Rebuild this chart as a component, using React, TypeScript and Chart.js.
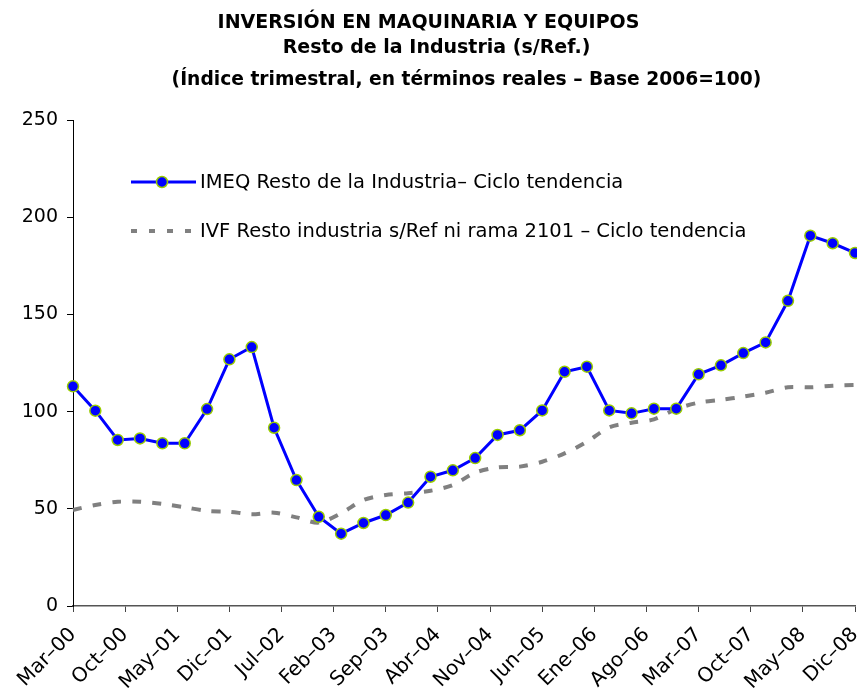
import React, { useEffect, useRef } from "react";
import { Chart, registerables } from "chart.js";

Chart.register(...registerables);

const TITLE_LINE_1 = "INVERSIÓN EN MAQUINARIA Y EQUIPOS";
const TITLE_LINE_2 = "Resto de la Industria (s/Ref.)";
const SUBTITLE = "(Índice trimestral, en términos reales – Base 2006=100)";

const MONTHS = ["Ene", "Feb", "Mar", "Abr", "May", "Jun", "Jul", "Ago", "Sep", "Oct", "Nov", "Dic"];

// Quarterly categories Mar-00 .. Dic-08
const quarters = [
  "Mar–00", "Jun–00", "Sep–00", "Dic–00",
  "Mar–01", "Jun–01", "Sep–01", "Dic–01",
  "Mar–02", "Jun–02", "Sep–02", "Dic–02",
  "Mar–03", "Jun–03", "Sep–03", "Dic–03",
  "Mar–04", "Jun–04", "Sep–04", "Dic–04",
  "Mar–05", "Jun–05", "Sep–05", "Dic–05",
  "Mar–06", "Jun–06", "Sep–06", "Dic–06",
  "Mar–07", "Jun–07", "Sep–07", "Dic–07",
  "Mar–08", "Jun–08", "Sep–08", "Dic–08",
];

const imeqValues = [
  113, 100.5, 85.4, 86.2, 83.7, 83.7, 101.3, 126.9, 133.2, 91.7, 64.8, 45.9,
  37.2, 42.7, 46.8, 53.2, 66.5, 69.8, 76.1, 88, 90.4, 100.6, 120.5, 123.1,
  100.6, 99.1, 101.5, 101.5, 119.2, 123.8, 130.1, 135.6, 157, 190.5, 186.6, 181.6,
];

const ivfValues = [
  49.4, 52, 53.6, 53.6, 52.5, 50.8, 48.9, 48.5, 47.2, 48, 45.6, 42.9,
  47.7, 54.5, 57.1, 58, 59.3, 62.2, 68.6, 71.3, 71.7, 74.2, 78.5, 84.5,
  91.9, 94.3, 96, 101.3, 104.6, 106, 107.7, 109.7, 112.5, 112.5, 113.3, 113.7,
];

// x-axis tick labels every 7 months, starting Mar-00
const tickLabels = [
  "Mar–00", "Oct–00", "May–01", "Dic–01", "Jul–02", "Feb–03", "Sep–03", "Abr–04",
  "Nov–04", "Jun–05", "Ene–06", "Ago–06", "Mar–07", "Oct–07", "May–08", "Dic–08",
];

const LEGEND_IMEQ = "IMEQ Resto de la Industria– Ciclo tendencia";
const LEGEND_IVF = "IVF Resto industria s/Ref ni rama 2101 – Ciclo tendencia";

const FONT = "'DejaVu Sans', sans-serif";

// month index of a "Mmm–yy" label relative to Mar-00
function monthIndex(label: string): number {
  const [m, y] = label.split("–");
  const mi = MONTHS.indexOf(m);
  const yi = 2000 + parseInt(y, 10);
  return (yi - 2000) * 12 + mi - 2;
}

const titlePlugin = {
  id: "multiTitle",
  afterDraw(chart: any) {
    const ctx = chart.ctx;
    const cx = chart.width / 2;
    ctx.save();
    ctx.fillStyle = "#000";
    ctx.textAlign = "center";
    ctx.textBaseline = "middle";
    ctx.font = `bold 19px ${FONT}`;
    ctx.fillText(TITLE_LINE_1, cx, 23);
    ctx.fillText(TITLE_LINE_2, cx + 8, 48);
    ctx.font = `bold 18.7px ${FONT}`;
    ctx.fillText(SUBTITLE, cx + 38, 80);
    ctx.restore();
  },
};

const legendPlugin = {
  id: "insideLegend",
  afterDraw(chart: any) {
    const ctx = chart.ctx;
    const ds0 = chart.data.datasets[0];
    const ds1 = chart.data.datasets[1];
    ctx.save();
    ctx.font = `19.5px ${FONT}`;
    ctx.fillStyle = "#000";
    ctx.textBaseline = "middle";
    ctx.textAlign = "left";
    // IMEQ
    const y1 = 182;
    ctx.strokeStyle = ds0.borderColor;
    ctx.lineWidth = ds0.borderWidth;
    ctx.beginPath();
    ctx.moveTo(131, y1);
    ctx.lineTo(196, y1);
    ctx.stroke();
    ctx.beginPath();
    ctx.arc(162, y1, ds0.pointRadius, 0, Math.PI * 2);
    ctx.fillStyle = ds0.pointBackgroundColor;
    ctx.fill();
    ctx.strokeStyle = ds0.pointBorderColor;
    ctx.lineWidth = ds0.pointBorderWidth;
    ctx.stroke();
    ctx.fillStyle = "#000";
    ctx.fillText(LEGEND_IMEQ, 200, y1 + 1);
    // IVF
    const y2 = 231;
    ctx.strokeStyle = ds1.borderColor;
    ctx.lineWidth = ds1.borderWidth;
    ctx.setLineDash([6, 12]);
    ctx.beginPath();
    ctx.moveTo(131, y2);
    ctx.lineTo(194, y2);
    ctx.stroke();
    ctx.setLineDash([]);
    ctx.fillText(LEGEND_IVF, 200, y2 + 1);
    ctx.restore();
  },
};

export default function App() {
  const ref = useRef<HTMLCanvasElement | null>(null);

  useEffect(() => {
    document.body.style.margin = "0";
    if (!ref.current) return;
    const chart = new Chart(ref.current, {
      type: "line",
      data: {
        datasets: [
          {
            label: LEGEND_IMEQ,
            data: quarters.map((q, i) => ({ x: monthIndex(q), y: imeqValues[i] })),
            borderColor: "#0000FF",
            borderWidth: 3,
            pointRadius: 5.5,
            pointBackgroundColor: "#0000FF",
            pointBorderColor: "#99CC00",
            pointBorderWidth: 1.5,
            tension: 0,
            clip: false,
          },
          {
            label: LEGEND_IVF,
            data: quarters.map((q, i) => ({ x: monthIndex(q), y: ivfValues[i] })),
            borderColor: "#808080",
            borderWidth: 4,
            borderDash: [9, 11],
            pointRadius: 0,
            tension: 0.3,
            clip: false,
          },
        ],
      },
      options: {
        animation: false,
        responsive: false,
        layout: { autoPadding: false, padding: { left: 0, right: 2, top: 120, bottom: 0 } },
        plugins: {
          legend: { display: false },
          tooltip: { enabled: false },
          title: { display: false },
          subtitle: { display: false },
        },
        scales: {
          x: {
            type: "linear",
            min: 0,
            max: monthIndex(tickLabels[tickLabels.length - 1]),
            afterBuildTicks: (scale: any) => {
              scale.ticks = tickLabels.map((l) => ({ value: monthIndex(l) }));
            },
            ticks: {
              autoSkip: false,
              maxRotation: 45,
              minRotation: 45,
              color: "#000",
              font: { family: FONT, size: 20 },
              padding: 11,
              callback: (v: any) => {
                const idx = tickLabels.findIndex((l) => monthIndex(l) === v);
                return idx >= 0 ? tickLabels[idx] : "";
              },
            },
            grid: { drawOnChartArea: false, drawTicks: true, tickLength: 6, color: "#444" },
            border: { display: true, color: "#555", width: 1.5 },
            afterFit: (scale: any) => {
              scale.height = 85;
              scale.paddingRight = 0;
              scale.paddingLeft = 0;
            },
          },
          y: {
            min: 0,
            max: 250,
            ticks: {
              stepSize: 50,
              color: "#000",
              font: { family: FONT, size: 19 },
              padding: 9,
            },
            grid: { drawOnChartArea: false, drawTicks: true, tickLength: 6, color: "#000" },
            border: { display: true, color: "#000", width: 1 },
            afterFit: (scale: any) => {
              scale.width = 73;
              scale.paddingTop = 0;
              scale.paddingBottom = 0;
            },
          },
        },
      },
      plugins: [titlePlugin, legendPlugin],
    });
    return () => chart.destroy();
  }, []);

  return (
    <div style={{ width: 857, height: 691 }}>
      <canvas ref={ref} width={857} height={691} style={{ width: 857, height: 691, display: "block" }} />
    </div>
  );
}
